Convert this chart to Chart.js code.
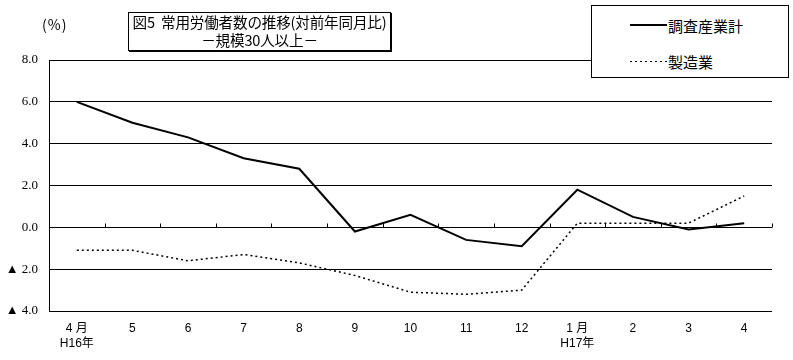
<!DOCTYPE html>
<html>
<head>
<meta charset="utf-8">
<script src="https://cdn.jsdelivr.net/npm/chart.js@4/dist/chart.umd.min.js"></script>
<style>
  html, body { margin: 0; padding: 0; background: #fff; }
  #wrap { position: relative; width: 793px; height: 360px; overflow: hidden; }
  canvas { position: absolute; left: 0; top: 0; }
  .unit { position: absolute; left: 42px; top: 14px; font: 14px "Noto Sans CJK JP", sans-serif; color: #000; letter-spacing: 1px; }
  .title { position: absolute; left: 128px; top: 12px; width: 261px; height: 37px; border: 1px solid #000;
           box-shadow: 1px 1px 0 #000; background: #fff; text-align: center;
           font: 14.6px/18px "Noto Sans CJK JP", sans-serif; color: #000; white-space: nowrap; letter-spacing: -0.2px; }
  .legend { position: absolute; left: 591px; top: 5px; width: 196px; height: 71px; border: 1px solid #000;
            background: #fff; font: 15px "Noto Sans CJK JP", sans-serif; color: #000; }
  .legend .row { position: absolute; left: 38px; height: 20px; display: flex; align-items: center; }
  .legend .sw { width: 37px; margin-right: 1px; }
  .legend .solid { height: 2px; background: #000; }
  .legend .dot { height: 1px; background: repeating-linear-gradient(to right, #000 0 2px, transparent 2px 5px); }
</style>
</head>
<body>
<div id="wrap">
  <canvas id="c" width="793" height="360"></canvas>
  <div class="unit">(%)</div>
  <div class="title">図5&nbsp; 常用労働者数の推移(対前年同月比)<br>－規模30人以上－</div>
  <div class="legend">
    <div class="row" style="top:9px"><div class="sw solid"></div>調査産業計</div>
    <div class="row" style="top:45px"><div class="sw dot"></div>製造業</div>
  </div>
</div>
<script>
const categories = [['4 月','H16年'],'5','6','7','8','9','10','11','12',['1 月','H17年'],'2','3','4'];
const seriesNames = ['調査産業計','製造業'];
const totalValues = [6.0, 5.0, 4.3, 3.3, 2.8, -0.2, 0.6, -0.6, -0.9, 1.8, 0.5, -0.1, 0.2];
const mfgValues   = [-1.1, -1.1, -1.6, -1.3, -1.7, -2.3, -3.1, -3.2, -3.0, 0.2, 0.2, 0.2, 1.5];
const yTicks = [-4, -2, 0, 2, 4, 6, 8];

const zeroTicks = {
  id: 'zeroTicks',
  afterDraw(chart) {
    const x = chart.scales.x, y = chart.scales.y, ctx = chart.ctx;
    const y0 = Math.round(y.getPixelForValue(0)) + 0.5;
    ctx.save();
    ctx.strokeStyle = '#000';
    ctx.lineWidth = 1;
    ctx.beginPath();
    for (let i = 1; i <= categories.length; i++) {
      let px;
      if (i < categories.length) px = (x.getPixelForValue(i - 1) + x.getPixelForValue(i)) / 2;
      else px = chart.chartArea.right;
      px = Math.round(px) + 0.5;
      ctx.moveTo(px, y0);
      ctx.lineTo(px, y0 - 4);
    }
    ctx.stroke();
    ctx.restore();
  }
};

new Chart(document.getElementById('c'), {
  type: 'line',
  data: {
    labels: categories,
    datasets: [
      { label: seriesNames[0], data: totalValues, borderColor: '#000', borderWidth: 2,
        pointRadius: 0, tension: 0, fill: false },
      { label: seriesNames[1], data: mfgValues, borderColor: '#000', borderWidth: 1.5,
        borderDash: [2, 3], pointRadius: 0, tension: 0, fill: false }
    ]
  },
  options: {
    responsive: false,
    animation: false,
    layout: { padding: { top: 60, right: 21, left: 0, bottom: 0 } },
    plugins: { legend: { display: false }, tooltip: { enabled: false } },
    scales: {
      x: {
        offset: true,
        grid: { display: false, drawTicks: false },
        border: { display: false },
        ticks: { color: '#000', padding: 10, maxRotation: 0, autoSkip: false,
                 font: { family: 'Arial, "Liberation Sans", "Noto Sans CJK JP", sans-serif', size: 12, lineHeight: 1.25 } },
        afterFit(s) { s.height = 49; }
      },
      y: {
        min: -4, max: 8,
        afterBuildTicks(s) { s.ticks = yTicks.map(v => ({ value: v })); },
        grid: { color: '#000', lineWidth: 1, drawTicks: false },
        border: { display: true, color: '#000', width: 1 },
        ticks: {
          color: '#000', padding: 11,
          font: { family: '"Liberation Serif", "DejaVu Serif", serif', size: 13 },
          callback(v) { return v < 0 ? '▲ ' + Math.abs(v).toFixed(1) : v.toFixed(1); }
        },
        afterFit(s) { s.width = 49; }
      }
    }
  },
  plugins: [zeroTicks]
});
</script>
</body>
</html>
